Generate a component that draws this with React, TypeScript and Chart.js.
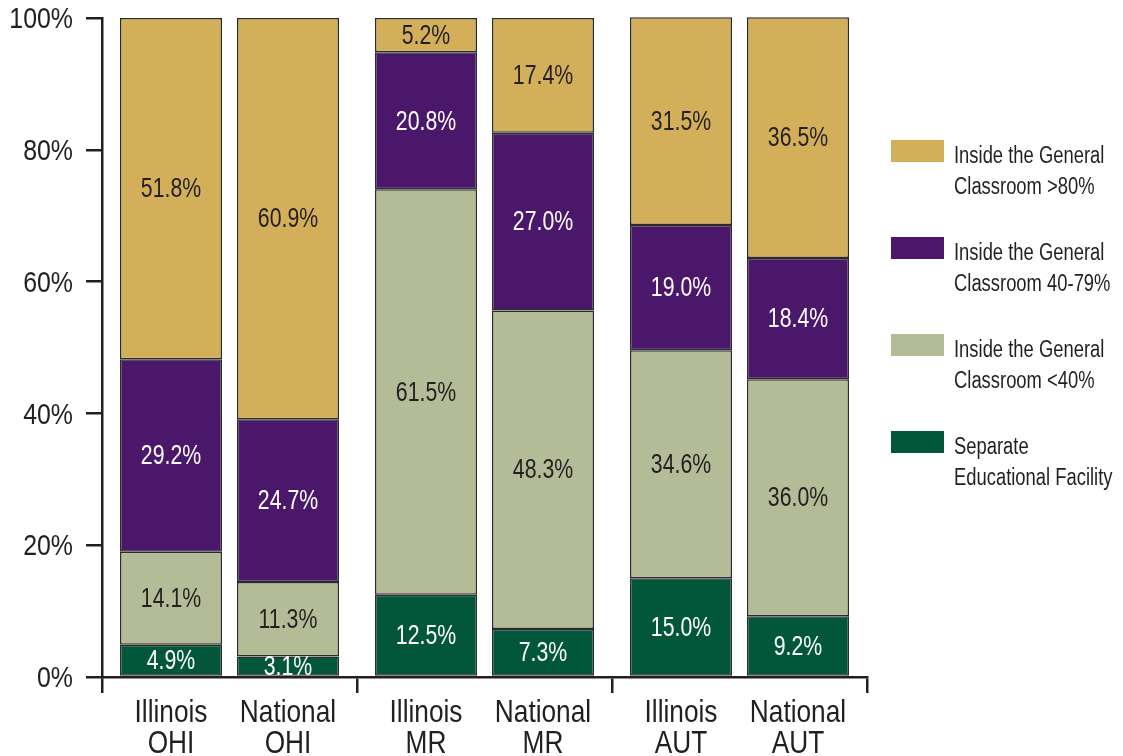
import React, { useEffect, useRef } from "react";
import { Chart, registerables } from "chart.js";

Chart.register(...registerables);

const groups = ["OHI", "MR", "AUT"];
const stacks = ["Illinois", "National"];

const seriesNames = [
  "Separate Educational Facility",
  "Inside the General Classroom <40%",
  "Inside the General Classroom 40-79%",
  "Inside the General Classroom >80%",
];
const legendLines = [
  ["Inside the General", "Classroom >80%"],
  ["Inside the General", "Classroom 40-79%"],
  ["Inside the General", "Classroom <40%"],
  ["Separate", "Educational Facility"],
];

// bottom to top
const ilSeparate = [4.9, 12.5, 15.0];
const ilBelow40 = [14.1, 61.5, 34.6];
const il40to79 = [29.2, 20.8, 19.0];
const ilAbove80 = [51.8, 5.2, 31.5];

const natSeparate = [3.1, 7.3, 9.2];
const natBelow40 = [11.3, 48.3, 36.0];
const nat40to79 = [24.7, 27.0, 18.4];
const natAbove80 = [60.9, 17.4, 36.5];

const yTicks = [0, 20, 40, 60, 80, 100];

const colors = ["#02573B", "#B3BC96", "#4A176A", "#D4AF5A"];
const labelColors = ["#ffffff", "#231f20", "#ffffff", "#231f20"];
const legendColors = ["#D4AF5A", "#4A176A", "#B3BC96", "#02573B"];

const FONT = "'Liberation Sans', Arial, sans-serif";
const INK = "#231f20";

function drawNarrow(
  ctx: CanvasRenderingContext2D,
  text: string,
  x: number,
  y: number,
  align: CanvasTextAlign,
  sx: number
) {
  ctx.save();
  ctx.translate(x, y);
  ctx.scale(sx, 1);
  ctx.textAlign = align;
  ctx.fillText(text, 0, 0);
  ctx.restore();
}

export default function App() {
  const ref = useRef<HTMLCanvasElement | null>(null);

  useEffect(() => {
    document.body.style.margin = "0";
    const canvas = ref.current;
    if (!canvas) return;

    const ilSeries = [ilSeparate, ilBelow40, il40to79, ilAbove80];
    const natSeries = [natSeparate, natBelow40, nat40to79, natAbove80];
    const datasets: any[] = [];
    seriesNames.forEach((name, i) => {
      [ilSeries, natSeries].forEach((src, si) => {
        datasets.push({
          label: name,
          data: src[i],
          stack: stacks[si],
          backgroundColor: colors[i],
          borderColor: "#2b2b2b",
          borderWidth: 1.5,
          borderSkipped: false,
          labelColor: labelColors[i],
        });
      });
    });

    const valueLabels = {
      id: "valueLabels",
      afterDatasetsDraw(chart: any) {
        const ctx = chart.ctx;
        ctx.save();
        ctx.font = `28px ${FONT}`;
        ctx.textBaseline = "middle";
        chart.data.datasets.forEach((ds: any, di: number) => {
          const meta = chart.getDatasetMeta(di);
          meta.data.forEach((el: any, i: number) => {
            const v = ds.data[i];
            ctx.fillStyle = ds.labelColor;
            drawNarrow(ctx, v.toFixed(1) + "%", el.x, (el.y + el.base) / 2 + 1, "center", 0.76);
          });
        });
        ctx.restore();
      },
    };

    const axisLabels = {
      id: "axisLabels",
      afterDraw(chart: any) {
        const ctx = chart.ctx;
        const xScale = chart.scales.x;
        const yScale = chart.scales.y;
        ctx.save();
        ctx.fillStyle = INK;
        ctx.textBaseline = "middle";
        ctx.font = `32px ${FONT}`;
        stacks.forEach((st, si) => {
          const meta = chart.getDatasetMeta(si);
          meta.data.forEach((el: any, gi: number) => {
            drawNarrow(ctx, st, el.x, xScale.top + 36, "center", 0.82);
            drawNarrow(ctx, groups[gi], el.x, xScale.top + 67, "center", 0.82);
          });
        });
        ctx.font = `30px ${FONT}`;
        yTicks.forEach((v) => {
          const py = yScale.getPixelForValue(v);
          drawNarrow(ctx, `${v}%`, yScale.right - 29, py + 2, "right", 0.83);
        });
        ctx.restore();
      },
    };

    const chart = new Chart(canvas, {
      type: "bar",
      data: { labels: groups, datasets },
      options: {
        responsive: false,
        animation: false,
        layout: { padding: { left: 0, right: 256, top: 18, bottom: 0 } },
        datasets: {
          bar: {
            categoryPercentage: 0.9176,
            barPercentage: 0.8718,
            clip: 4,
          } as any,
        },
        plugins: {
          legend: { display: false },
          tooltip: { enabled: false },
        },
        scales: {
          x: {
            stacked: true,
            offset: true,
            grid: {
              offset: true,
              drawOnChartArea: false,
              drawTicks: true,
              tickLength: 16,
              color: INK,
              lineWidth: 2.5,
            },
            border: { color: INK, width: 2.5 },
            ticks: { display: false },
            afterFit(scale: any) {
              scale.height = 79;
            },
          },
          y: {
            stacked: true,
            min: 0,
            max: 100,
            afterBuildTicks(scale: any) {
              scale.ticks = yTicks.map((v) => ({ value: v }));
            },
            grid: {
              drawOnChartArea: false,
              drawTicks: true,
              tickLength: 16,
              color: INK,
              lineWidth: 2.5,
            },
            border: { color: INK, width: 2.5 },
            ticks: { display: false },
            afterFit(scale: any) {
              scale.width = 102;
              scale.paddingTop = 0;
              scale.paddingBottom = 0;
            },
          },
        },
      },
      plugins: [valueLabels, axisLabels],
    });

    return () => chart.destroy();
  }, []);

  return (
    <div style={{ position: "relative", width: 1123, height: 756, background: "#fff" }}>
      <canvas ref={ref} width={1123} height={756} style={{ display: "block" }} />
      {legendLines.map((lines, i) => (
        <div
          key={i}
          style={{
            position: "absolute",
            left: 891,
            top: 140 + i * 97,
            display: "flex",
            alignItems: "flex-start",
          }}
        >
          <div style={{ width: 53, height: 22, background: legendColors[i], flex: "none" }} />
          <div
            style={{
              marginLeft: 10,
              fontFamily: FONT,
              fontSize: 23,
              lineHeight: "31px",
              color: INK,
              whiteSpace: "nowrap",
              transform: "scaleX(0.8)",
              transformOrigin: "left top",
              marginTop: 0,
            }}
          >
            {lines.map((l, j) => (
              <div key={j}>{l}</div>
            ))}
          </div>
        </div>
      ))}
    </div>
  );
}
